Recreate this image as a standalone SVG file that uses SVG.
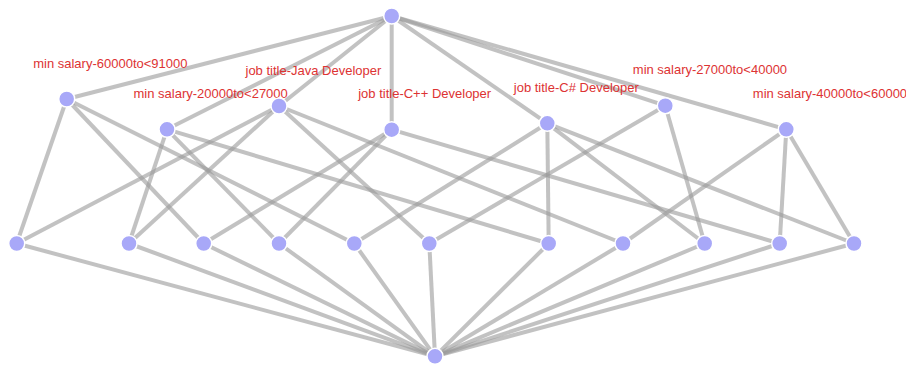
<svg xmlns="http://www.w3.org/2000/svg" width="906" height="368" viewBox="0 0 906 368">
<style>
.link{stroke:#999;stroke-opacity:0.6;stroke-width:4;fill:none}
.node circle{fill:#a8a8f8;stroke:#fff;stroke-width:1.5}
.node text{font-family:"Liberation Sans",Arial,sans-serif;font-size:13px;fill:#dd3333}
</style>
<rect width="906" height="368" fill="#fff"/>
<g id="links">
<line class="link" x1="391.7" y1="16" x2="66.7" y2="99"/>
<line class="link" x1="391.7" y1="16" x2="167" y2="129.3"/>
<line class="link" x1="391.7" y1="16" x2="279" y2="106"/>
<line class="link" x1="391.7" y1="16" x2="391.7" y2="129.7"/>
<line class="link" x1="391.7" y1="16" x2="547.3" y2="123.3"/>
<line class="link" x1="391.7" y1="16" x2="665.3" y2="105.7"/>
<line class="link" x1="391.7" y1="16" x2="786.3" y2="129.3"/>
<line class="link" x1="66.7" y1="99" x2="16.7" y2="243.5"/>
<line class="link" x1="66.7" y1="99" x2="203.7" y2="243.5"/>
<line class="link" x1="66.7" y1="99" x2="354.3" y2="243.5"/>
<line class="link" x1="167" y1="129.3" x2="129" y2="243.5"/>
<line class="link" x1="167" y1="129.3" x2="279" y2="243.5"/>
<line class="link" x1="167" y1="129.3" x2="548.7" y2="243.5"/>
<line class="link" x1="279" y1="106" x2="16.7" y2="243.5"/>
<line class="link" x1="279" y1="106" x2="129" y2="243.5"/>
<line class="link" x1="279" y1="106" x2="429.3" y2="243.5"/>
<line class="link" x1="279" y1="106" x2="623" y2="243.5"/>
<line class="link" x1="391.7" y1="129.7" x2="203.7" y2="243.5"/>
<line class="link" x1="391.7" y1="129.7" x2="279" y2="243.5"/>
<line class="link" x1="391.7" y1="129.7" x2="779.7" y2="243.5"/>
<line class="link" x1="547.3" y1="123.3" x2="354.3" y2="243.5"/>
<line class="link" x1="547.3" y1="123.3" x2="548.7" y2="243.5"/>
<line class="link" x1="547.3" y1="123.3" x2="704.7" y2="243.5"/>
<line class="link" x1="547.3" y1="123.3" x2="854" y2="243.5"/>
<line class="link" x1="665.3" y1="105.7" x2="429.3" y2="243.5"/>
<line class="link" x1="665.3" y1="105.7" x2="704.7" y2="243.5"/>
<line class="link" x1="786.3" y1="129.3" x2="623" y2="243.5"/>
<line class="link" x1="786.3" y1="129.3" x2="779.7" y2="243.5"/>
<line class="link" x1="786.3" y1="129.3" x2="854" y2="243.5"/>
<line class="link" x1="16.7" y1="243.5" x2="435" y2="356.3"/>
<line class="link" x1="129" y1="243.5" x2="435" y2="356.3"/>
<line class="link" x1="203.7" y1="243.5" x2="435" y2="356.3"/>
<line class="link" x1="279" y1="243.5" x2="435" y2="356.3"/>
<line class="link" x1="354.3" y1="243.5" x2="435" y2="356.3"/>
<line class="link" x1="429.3" y1="243.5" x2="435" y2="356.3"/>
<line class="link" x1="548.7" y1="243.5" x2="435" y2="356.3"/>
<line class="link" x1="623" y1="243.5" x2="435" y2="356.3"/>
<line class="link" x1="704.7" y1="243.5" x2="435" y2="356.3"/>
<line class="link" x1="779.7" y1="243.5" x2="435" y2="356.3"/>
<line class="link" x1="854" y1="243.5" x2="435" y2="356.3"/>
</g>
<g id="node-top" class="node"><circle cx="391.7" cy="16" r="8"/></g>
<g id="node-salary-60000-91000" class="node"><circle cx="66.7" cy="99" r="8"/><text x="33.2" y="67.5">min salary-60000to&lt;91000</text></g>
<g id="node-salary-20000-27000" class="node"><circle cx="167" cy="129.3" r="8"/><text x="133.5" y="97.8">min salary-20000to&lt;27000</text></g>
<g id="node-java" class="node"><circle cx="279" cy="106" r="8"/><text x="245.5" y="74.5">job title-Java Developer</text></g>
<g id="node-cpp" class="node"><circle cx="391.7" cy="129.7" r="8"/><text x="358.2" y="98.2">job title-C++ Developer</text></g>
<g id="node-csharp" class="node"><circle cx="547.3" cy="123.3" r="8"/><text x="513.8" y="91.8">job title-C# Developer</text></g>
<g id="node-salary-27000-40000" class="node"><circle cx="665.3" cy="105.7" r="8"/><text x="632.8" y="74.2">min salary-27000to&lt;40000</text></g>
<g id="node-salary-40000-60000" class="node"><circle cx="786.3" cy="129.3" r="8"/><text x="752.8" y="97.8">min salary-40000to&lt;60000</text></g>
<g id="node-m0" class="node"><circle cx="16.7" cy="243.5" r="8"/></g>
<g id="node-m1" class="node"><circle cx="129" cy="243.5" r="8"/></g>
<g id="node-m2" class="node"><circle cx="203.7" cy="243.5" r="8"/></g>
<g id="node-m3" class="node"><circle cx="279" cy="243.5" r="8"/></g>
<g id="node-m4" class="node"><circle cx="354.3" cy="243.5" r="8"/></g>
<g id="node-m5" class="node"><circle cx="429.3" cy="243.5" r="8"/></g>
<g id="node-m6" class="node"><circle cx="548.7" cy="243.5" r="8"/></g>
<g id="node-m7" class="node"><circle cx="623" cy="243.5" r="8"/></g>
<g id="node-m8" class="node"><circle cx="704.7" cy="243.5" r="8"/></g>
<g id="node-m9" class="node"><circle cx="779.7" cy="243.5" r="8"/></g>
<g id="node-m10" class="node"><circle cx="854" cy="243.5" r="8"/></g>
<g id="node-bottom" class="node"><circle cx="435" cy="356.3" r="8"/></g>
</svg>
